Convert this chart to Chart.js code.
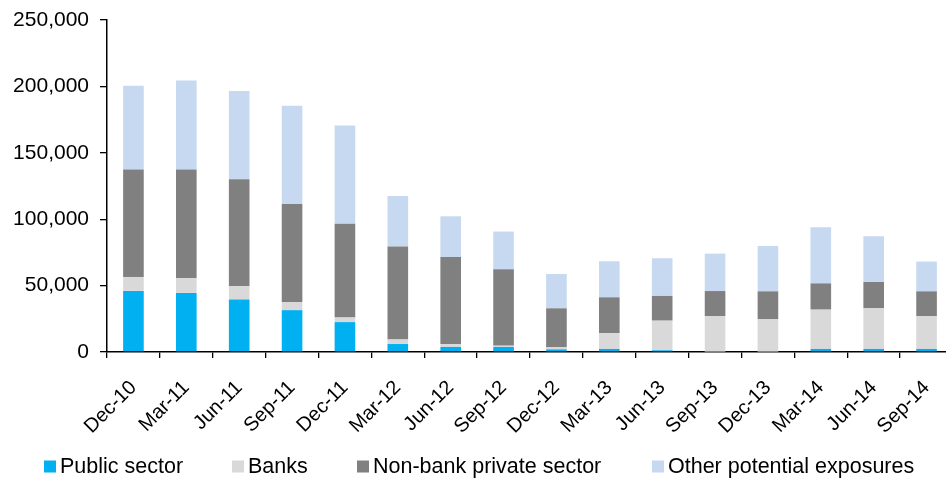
<!DOCTYPE html>
<html>
<head>
<meta charset="utf-8">
<script src="https://cdn.jsdelivr.net/npm/chart.js@4/dist/chart.umd.min.js"></script>
<style>
  html, body { margin: 0; padding: 0; background: #fff; overflow: hidden; }
  #wrap { position: relative; width: 953px; height: 479px; }
</style>
</head>
<body>
<div id="wrap"><canvas id="chart"></canvas></div>
<script>
// Quarterly exposures, stacked by counterparty type
const quarters = ['Dec-10', 'Mar-11', 'Jun-11', 'Sep-11', 'Dec-11', 'Mar-12', 'Jun-12', 'Sep-12',
                  'Dec-12', 'Mar-13', 'Jun-13', 'Sep-13', 'Dec-13', 'Mar-14', 'Jun-14', 'Sep-14'];
const publicSector = [46000, 44500, 39500, 31500, 22500, 6000, 3800, 3800, 2000, 2300, 1300, 300, 300, 2300, 2300, 2300];
const banks        = [10500, 11000, 10000, 6000, 3500, 3500, 2200, 1000, 1500, 12000, 22300, 26800, 24300, 29600, 30600, 24800];
const nonBank      = [81000, 82000, 80500, 74000, 70500, 70000, 65500, 57500, 29400, 26900, 18600, 18800, 21100, 19800, 19800, 18600];
const otherExp     = [63000, 67000, 66500, 74000, 74000, 38000, 30700, 28400, 25800, 27100, 28400, 28200, 34100, 42200, 34400, 22400];
const yTicks = [0, 50000, 100000, 150000, 200000, 250000];

const FONT = '"Liberation Sans", Arial, Helvetica, sans-serif';

// Legend row along the bottom: square swatch followed by the series name
const legendEntryX = [44, 232, 357, 652];
const bottomLegend = {
  id: 'bottomLegend',
  afterDraw(chart) {
    const ctx = chart.ctx;
    ctx.save();
    ctx.font = '21.5px ' + FONT;
    ctx.textAlign = 'left';
    ctx.textBaseline = 'alphabetic';
    chart.data.datasets.forEach((ds, i) => {
      const x = legendEntryX[i];
      ctx.fillStyle = ds.backgroundColor;
      ctx.fillRect(x, 460.5, 12, 12);
      ctx.fillStyle = '#000';
      ctx.fillText(ds.label, x + 16, 473.3);
    });
    ctx.restore();
  }
};

function series(label, data, color) {
  return {
    label, data,
    backgroundColor: color,
    borderWidth: 0,
    barPercentage: 0.39,
    categoryPercentage: 1.0
  };
}

new Chart(document.getElementById('chart'), {
  type: 'bar',
  data: {
    labels: quarters,
    datasets: [
      series('Public sector', publicSector, '#00B0F0'),
      series('Banks', banks, '#D9D9D9'),
      series('Non-bank private sector', nonBank, '#808080'),
      series('Other potential exposures', otherExp, '#C6D9F1')
    ]
  },
  plugins: [bottomLegend],
  options: {
    responsive: true,
    maintainAspectRatio: false,
    animation: false,
    layout: { padding: { top: 20, left: 0, right: 0, bottom: 39 } },
    plugins: {
      tooltip: { enabled: false },
      legend: { display: false }
    },
    scales: {
      x: {
        stacked: true,
        afterFit: (axis) => {
          axis.height = 88;
          axis.paddingLeft = 0;
          axis.paddingRight = 0;
        },
        grid: {
          display: true,
          offset: true,
          drawOnChartArea: false,
          drawTicks: true,
          tickLength: 6,
          color: '#000',
          lineWidth: 1.3
        },
        border: { display: true, color: '#000', width: 1.5 },
        ticks: {
          color: '#000',
          minRotation: 45,
          maxRotation: 45,
          autoSkip: false,
          padding: 18,
          font: { family: FONT, size: 20 }
        }
      },
      y: {
        stacked: true,
        min: yTicks[0],
        max: yTicks[yTicks.length - 1],
        afterBuildTicks: (axis) => { axis.ticks = yTicks.map(v => ({ value: v })); },
        afterFit: (axis) => {
          axis.width = 107;
          axis.paddingTop = 0;
          axis.paddingBottom = 0;
        },
        grid: {
          display: true,
          drawOnChartArea: false,
          drawTicks: true,
          tickLength: 7,
          color: '#000',
          lineWidth: 1.3
        },
        border: { display: true, color: '#000', width: 1.5 },
        ticks: {
          color: '#000',
          padding: 11,
          font: { family: FONT, size: 21 },
          callback: (v) => Number(v).toLocaleString('en-US')
        }
      }
    }
  }
});
</script>
</body>
</html>
